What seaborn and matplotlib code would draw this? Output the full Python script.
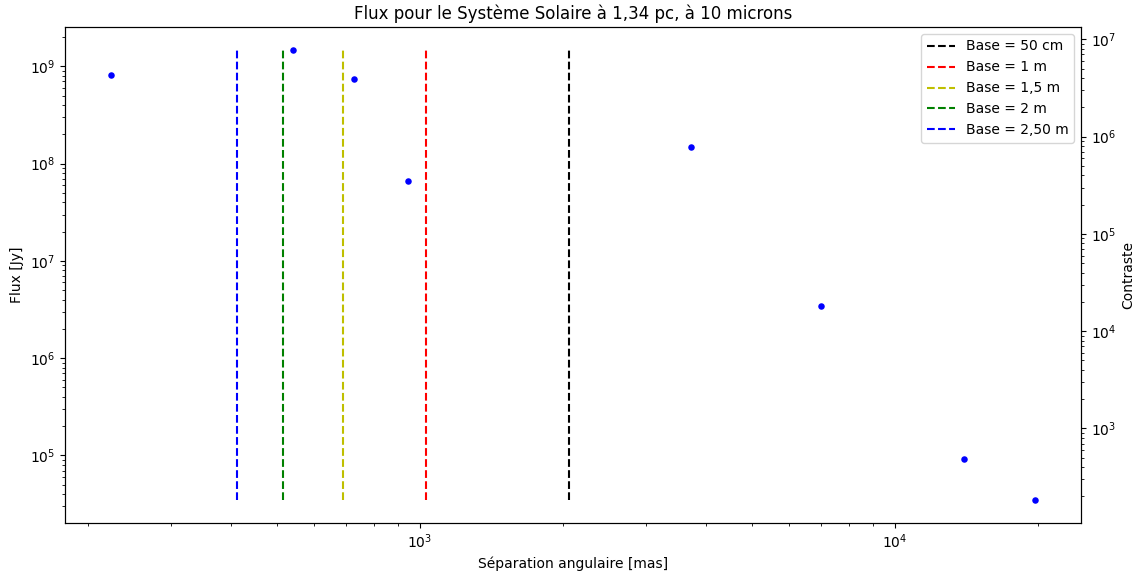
import matplotlib
matplotlib.use("Agg")
import matplotlib.pyplot as plt
import seaborn as sns
import pandas as pd

# Angular separation of each planet (mas) and its flux at 10 microns (Jy)
separation_mas = [224, 540, 726, 943, 3720, 6980, 13970, 19720]
flux_jy = [8.1e8, 1.49e9, 7.5e8, 6.7e7, 1.49e8, 3.45e6, 9.3e4, 3.45e4]

# Angular resolution lambda/(2B) for each baseline (mas)
baseline_labels = ["Base = 50 cm", "Base = 1 m", "Base = 1,5 m", "Base = 2 m", "Base = 2,50 m"]
baseline_res_mas = [2063, 1031, 688, 516, 413]
baseline_colors = ["k", "r", "y", "g", "b"]

# Flux -> contrast conversion factor
contrast_per_jy = 5.28e-3

df = pd.DataFrame({"sep": separation_mas, "flux": flux_jy})

fig = plt.figure(figsize=(11.46, 5.74), dpi=100)
ax = fig.add_axes([0.0567, 0.0889, 0.8866, 0.8641])

sns.scatterplot(data=df, x="sep", y="flux", color="b", s=22, linewidth=0,
                edgecolor=None, ax=ax, legend=False, zorder=3)

ymin, ymax = min(flux_jy), max(flux_jy)
for xv, lab, col in zip(baseline_res_mas, baseline_labels, baseline_colors):
    ax.vlines(xv, ymin, ymax, colors=col, linestyles="--", label=lab, linewidth=1.5)

ax.set_xscale("log")
ax.set_yscale("log")
ax.set_xlabel("Séparation angulaire [mas]")
ax.set_ylabel("Flux [Jy]")
ax.set_title("Flux pour le Système Solaire à 1,34 pc, à 10 microns", fontsize=12)
ax.legend(loc="upper right")

lo, hi = ax.get_ylim()
ax2 = ax.twinx()
ax2.set_yscale("log")
ax2.set_ylim(lo * contrast_per_jy, hi * contrast_per_jy)
ax2.set_ylabel("Contraste")

fig.savefig("out.png", dpi=100)
